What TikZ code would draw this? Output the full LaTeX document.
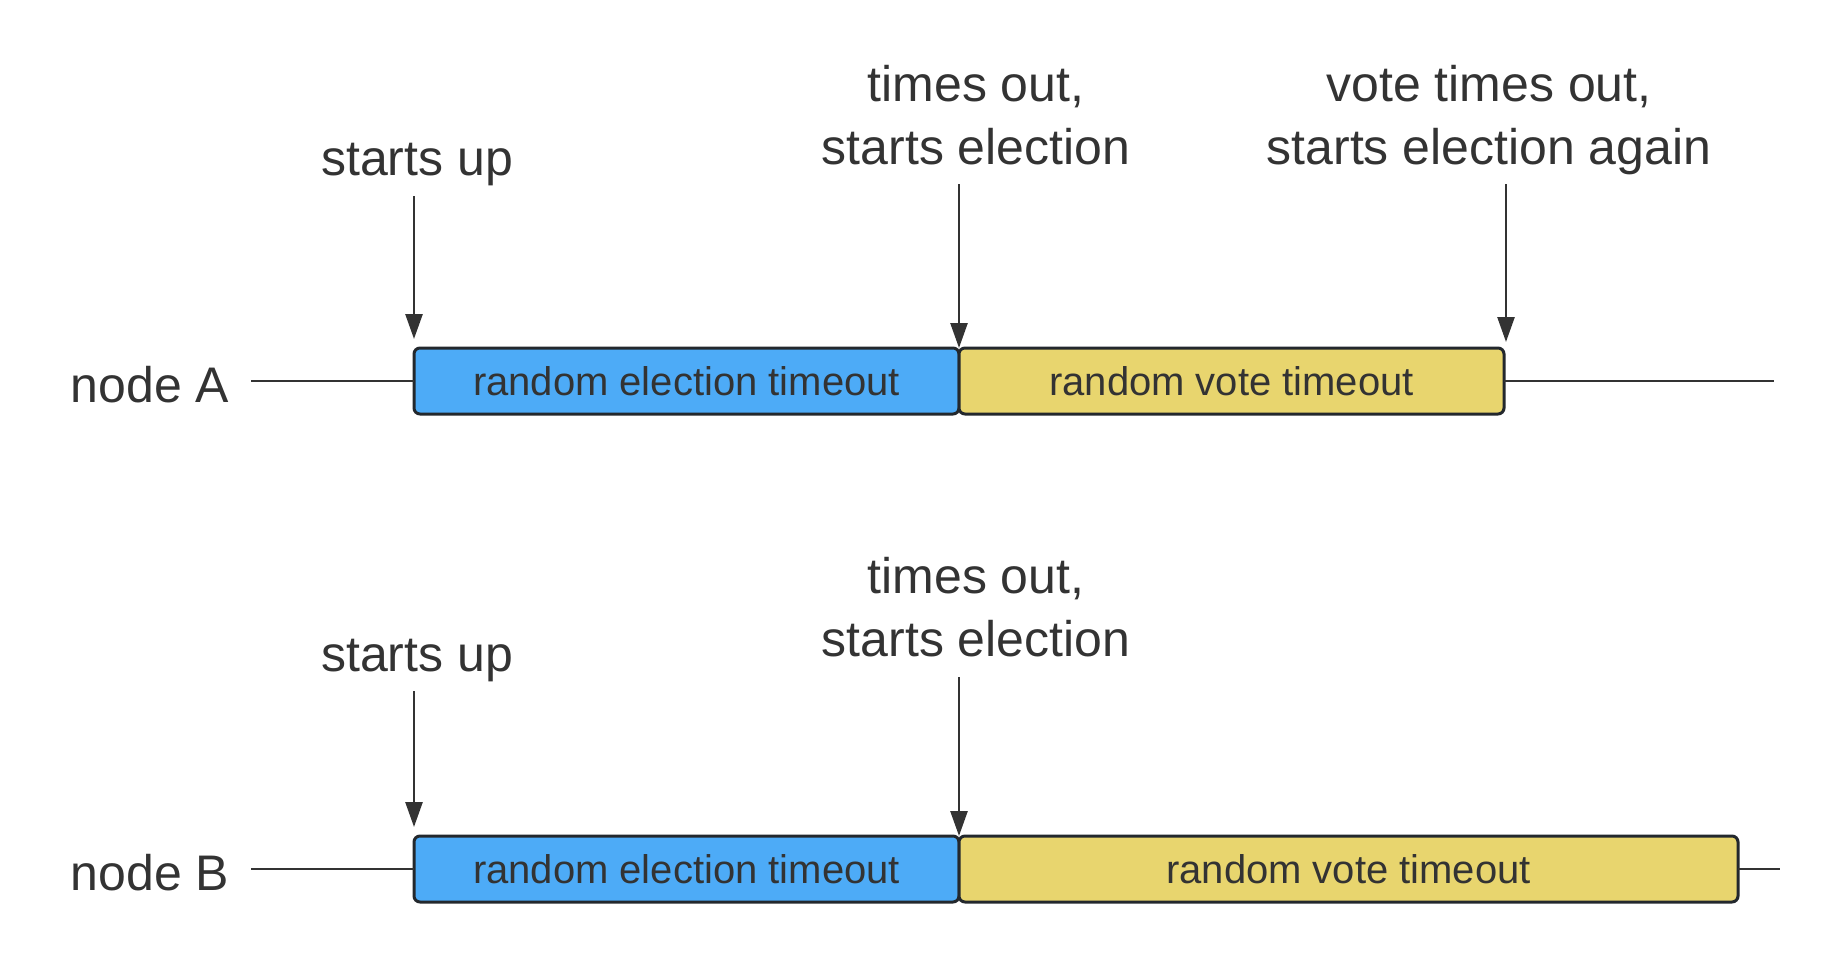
\documentclass[tikz,border=0pt]{standalone}
\usepackage{fontspec}
\setmainfont{Liberation Sans}
\usetikzlibrary{arrows.meta}
\definecolor{bluefill}{RGB}{77,171,247}
\definecolor{yellowfill}{RGB}{232,213,110}
\definecolor{edgecol}{RGB}{35,40,45}
\definecolor{txtcol}{RGB}{51,51,51}
\begin{document}
\begin{tikzpicture}[x=1pt,y=-1pt,
  bar/.style={draw=edgecol, line width=3pt, rounded corners=6pt, minimum height=66pt,
    inner sep=0pt, outer sep=0pt, anchor=west, text=txtcol, font=\fontsize{40}{48}\selectfont},
  elec/.style={bar, fill=bluefill, minimum width=545pt},
  vote/.style={bar, fill=yellowfill},
  lbl/.style={text=txtcol, font=\fontsize{50}{63}\selectfont, align=center, inner sep=0pt},
  tline/.style={draw=txtcol, line width=2.6pt},
  arr/.style={tline, -{Triangle[length=25pt,width=17pt]}}
]
\useasboundingbox (0,0) rectangle (1830,958);

% ---- node A ----
\node[lbl] (nA) at (150,385) {node A};
\node[elec] (eA) at (414,381) {random election timeout};
\node[vote, minimum width=545pt] (vA) at (959,381) {random vote timeout};
\coordinate (lA) at (251,381);
\coordinate (rA) at (1774,381);
\draw[tline] (lA) -- (eA.west);
\draw[tline] (vA.east) -- (rA);

\node[lbl] (sA) at (417,165) {starts up};
\node[lbl] (tA) at (976,115.5) {times out,\\starts election};
\node[lbl] (wA) at (1489,120) {vote times out,\\starts election again};
\coordinate (sAs) at (414,196);
\coordinate (tAs) at (959,184);
\coordinate (wAs) at (1506,184);
\draw[arr] (sAs) -- ([yshift=9pt]eA.north west);
\draw[arr] (tAs) -- (vA.north west);
\draw[arr] (wAs) -- ([xshift=2pt,yshift=6pt]vA.north east);

% ---- node B ----
\node[lbl] (nB) at (150,873) {node B};
\node[elec] (eB) at (414,869) {random election timeout};
\node[vote, minimum width=779pt] (vB) at (959,869) {random vote timeout};
\coordinate (lB) at (251,869);
\coordinate (rB) at (1780,869);
\draw[tline] (lB) -- (eB.west);
\draw[tline] (vB.east) -- (rB);

\node[lbl] (sB) at (417,661) {starts up};
\node[lbl] (tB) at (976,607) {times out,\\starts election};
\coordinate (sBs) at (414,691);
\coordinate (tBs) at (959,677);
\draw[arr] (sBs) -- ([yshift=9pt]eB.north west);
\draw[arr] (tBs) -- (vB.north west);
\end{tikzpicture}
\end{document}
